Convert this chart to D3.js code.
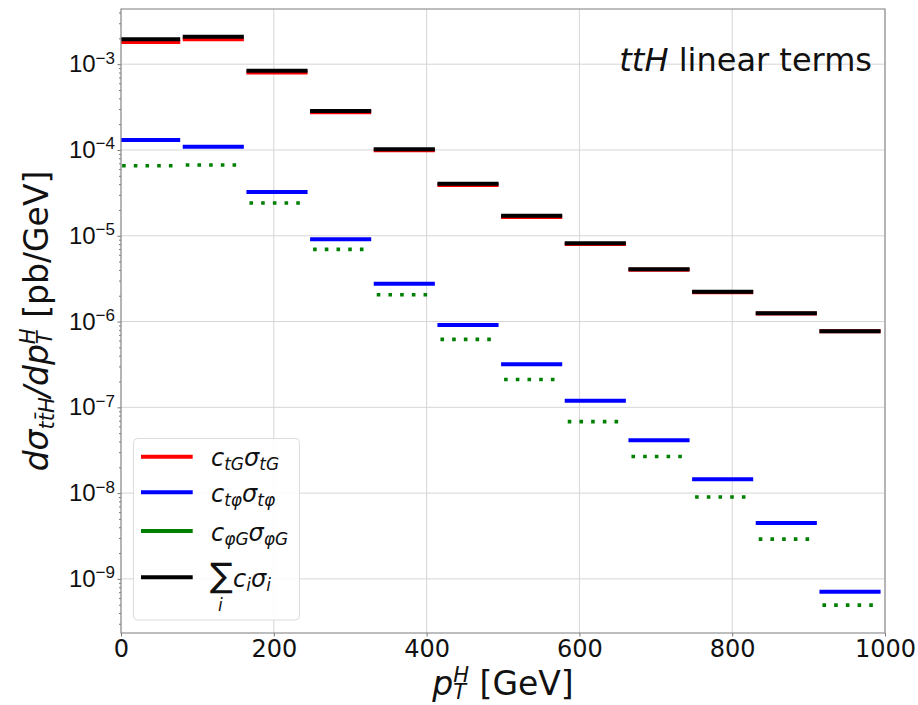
<!DOCTYPE html>
<html>
<head>
<meta charset="utf-8">
<script src="https://cdn.jsdelivr.net/npm/d3@7"></script>
<style>
  html, body { margin: 0; padding: 0; background: #fff; }
  svg { display: block; font-family: "DejaVu Sans", sans-serif; }
</style>
</head>
<body>
<svg id="chart" width="918" height="705"></svg>
<script>
// ---- data ----
const binLo = [-2.5, 80.8, 164.2, 247.5, 330.8, 414.2, 497.5, 580.8, 664.2, 747.5, 830.8, 914.2];
const binHi = [77.5, 160.8, 244.2, 327.5, 410.8, 494.2, 577.5, 660.8, 744.2, 827.5, 910.8, 994.2];
const sigmaTG   = [1.82e-3, 1.96e-3, 8.0e-4, 2.75e-4, 9.9e-5, 3.9e-5, 1.66e-5, 8.0e-6, 4.02e-6, 2.2e-6, 1.24e-6, 7.7e-7];
const sigmaTPhi = [1.31e-4, 1.09e-4, 3.24e-5, 9.1e-6, 2.75e-6, 9.1e-7, 3.18e-7, 1.19e-7, 4.13e-8, 1.45e-8, 4.48e-9, 7.1e-10];
const sigmaPhiG = [6.56e-5, 6.68e-5, 2.41e-5, 6.93e-6, 2.05e-6, 6.2e-7, 2.11e-7, 6.82e-8, 2.67e-8, 9.0e-9, 2.91e-9, 4.94e-10];
const sigmaSum  = [1.96e-3, 2.09e-3, 8.4e-4, 2.85e-4, 1.02e-4, 4.05e-5, 1.71e-5, 8.2e-6, 4.08e-6, 2.22e-6, 1.25e-6, 7.7e-7];
const xTicks = [0, 200, 400, 600, 800, 1000];
const yTickExp = [-3, -4, -5, -6, -7, -8, -9];

const svg = d3.select("#chart");
const L = 121, R = 885, T = 9, B = 633;
const x = d3.scaleLinear().domain([0, 1000]).range([L, R]);
const y = d3.scaleLog().domain([2.34e-10, 4.4e-3]).range([B, T]);

// clip
svg.append("defs").append("clipPath").attr("id", "clip")
  .append("rect").attr("x", L).attr("y", T).attr("width", R - L).attr("height", B - T);

// grid
const grid = svg.append("g");
xTicks.forEach(v => {
  grid.append("line").attr("x1", x(v)).attr("x2", x(v)).attr("y1", T).attr("y2", B)
    .attr("stroke", "#d6d6d6").attr("stroke-width", 1);
});
yTickExp.forEach(e => {
  grid.append("line").attr("x1", L).attr("x2", R).attr("y1", y(Math.pow(10, e))).attr("y2", y(Math.pow(10, e)))
    .attr("stroke", "#d6d6d6").attr("stroke-width", 1);
});

// axes via d3
const xAxis = d3.axisBottom(x).tickValues(xTicks).tickSize(3.5).tickPadding(3).tickFormat(d3.format("d"));
const gx = svg.append("g").attr("transform", `translate(0,${B})`).call(xAxis);
gx.select(".domain").remove();
gx.selectAll(".tick line").attr("stroke", "#777");
gx.selectAll(".tick text").attr("font-size", 24).attr("fill", "#111").attr("font-family", "DejaVu Sans")
  .attr("y", 24).attr("dy", 0);

const minorVals = [];
for (let e = -10; e <= -3; e++) for (let m = 2; m <= 9; m++) {
  const v = m * Math.pow(10, e);
  if (v >= 2.34e-10 && v <= 4.4e-3) minorVals.push(v);
}
const gyMinor = svg.append("g").attr("transform", `translate(${L},0)`)
  .call(d3.axisLeft(y).tickValues(minorVals).tickSize(2).tickFormat(""));
gyMinor.select(".domain").remove();
gyMinor.selectAll(".tick line").attr("stroke", "#777");

const gy = svg.append("g").attr("transform", `translate(${L},0)`)
  .call(d3.axisLeft(y).tickValues(yTickExp.map(e => Math.pow(10, e))).tickSize(3.5).tickFormat(""));
gy.select(".domain").remove();
gy.selectAll(".tick line").attr("stroke", "#777");
gy.selectAll(".tick").each(function(d) {
  const e = Math.round(Math.log10(d));
  const t = d3.select(this).append("text")
    .attr("x", -6).attr("y", 7.5).attr("text-anchor", "end")
    .attr("fill", "#111").attr("font-size", 24);
  t.append("tspan").text("10");
  t.append("tspan").attr("font-size", 17).attr("dy", -8.5).text("\u2212" + Math.abs(e));
});

// series
const plot = svg.append("g").attr("clip-path", "url(#clip)");
function drawSeries(vals, color, dashed) {
  plot.append("g").selectAll("line").data(vals).join("line")
    .attr("x1", (d, i) => x(binLo[i]))
    .attr("x2", (d, i) => x(binHi[i]))
    .attr("y1", d => y(d)).attr("y2", d => y(d))
    .attr("stroke", color).attr("stroke-width", dashed ? 3.6 : 4)
    .attr("stroke-dasharray", dashed ? "3.6,8.1" : null)
    .attr("stroke-dashoffset", dashed ? -3 : null);
}
drawSeries(sigmaTG, "#ff0000", false);
drawSeries(sigmaTPhi, "#0000ff", false);
drawSeries(sigmaPhiG, "#008000", true);
drawSeries(sigmaSum, "#000000", false);

// frame
svg.append("rect").attr("x", L).attr("y", T).attr("width", R - L).attr("height", B - T)
  .attr("fill", "none").attr("stroke", "#888").attr("stroke-width", 1.1);

// title
const title = svg.append("text").attr("x", 872).attr("y", 71).attr("text-anchor", "end")
  .attr("font-size", 32).attr("fill", "#111");
title.append("tspan").attr("font-style", "italic").text("ttH");
title.append("tspan").text(" linear terms");

// x label
const xl = svg.append("text").attr("x", (L + R) / 2).attr("y", 695).attr("text-anchor", "middle")
  .attr("font-size", 33).attr("fill", "#111");
xl.append("tspan").attr("font-style", "italic").text("p");
xl.append("tspan").attr("font-style", "italic").attr("font-size", 21).attr("dy", 4).text("T");
xl.append("tspan").attr("font-style", "italic").attr("font-size", 21).attr("dx", -12.8).attr("dy", -17).text("H");
xl.append("tspan").attr("dy", 13).text(" [GeV]");

// y label
const yl = svg.append("text").attr("transform", `translate(48,${(T + B) / 2}) rotate(-90)`)
  .attr("text-anchor", "middle").attr("font-size", 33).attr("fill", "#111");
yl.append("tspan").attr("font-style", "italic").text("d\u03C3");
yl.append("tspan").attr("font-style", "italic").attr("font-size", 21).attr("dy", 6).text("tt\u0304H");
yl.append("tspan").attr("font-style", "italic").attr("dy", -6).text("/dp");
yl.append("tspan").attr("font-style", "italic").attr("font-size", 21).attr("dy", 4).text("T");
yl.append("tspan").attr("font-style", "italic").attr("font-size", 21).attr("dx", -12.8).attr("dy", -17).text("H");
yl.append("tspan").attr("dy", 13).text(" [pb/GeV]");

// legend
const lg = svg.append("g");
lg.append("rect").attr("x", 133.5).attr("y", 438.5).attr("width", 166).attr("height", 181.5)
  .attr("rx", 4).attr("fill", "#fff").attr("fill-opacity", 0.85).attr("stroke", "#dcdcdc").attr("stroke-width", 1);
const legColors = ["#ff0000", "#0000ff", "#008000", "#000000"];
const legY = [456.7, 492.3, 531, 577.3];
legColors.forEach((c, i) => {
  lg.append("line").attr("x1", 141).attr("x2", 192.7).attr("y1", legY[i]).attr("y2", legY[i])
    .attr("stroke", c).attr("stroke-width", 4);
});
function legText(i, sub) {
  const t = lg.append("text").attr("x", 211).attr("y", legY[i] + 9.5).attr("font-size", 24)
    .attr("font-style", "italic").attr("fill", "#111");
  t.append("tspan").text("c");
  t.append("tspan").attr("font-size", 17).attr("dy", 4).text(sub);
  t.append("tspan").attr("dy", -4).text("\u03C3");
  t.append("tspan").attr("font-size", 17).attr("dy", 4).text(sub);
}
legText(0, "tG");
legText(1, "t\u03C6");
legText(2, "\u03C6G");
// sum entry
lg.append("text").attr("x", 210).attr("y", 587).attr("font-size", 34).attr("fill", "#111").text("\u2211");
lg.append("text").attr("x", 218).attr("y", 611).attr("font-size", 17).attr("font-style", "italic").attr("fill", "#111").text("i");
const st = lg.append("text").attr("x", 233).attr("y", 587).attr("font-size", 24).attr("font-style", "italic").attr("fill", "#111");
st.append("tspan").text("c");
st.append("tspan").attr("font-size", 17).attr("dy", 4).text("i");
st.append("tspan").attr("dy", -4).text("\u03C3");
st.append("tspan").attr("font-size", 17).attr("dy", 4).text("i");
</script>
</body>
</html>
